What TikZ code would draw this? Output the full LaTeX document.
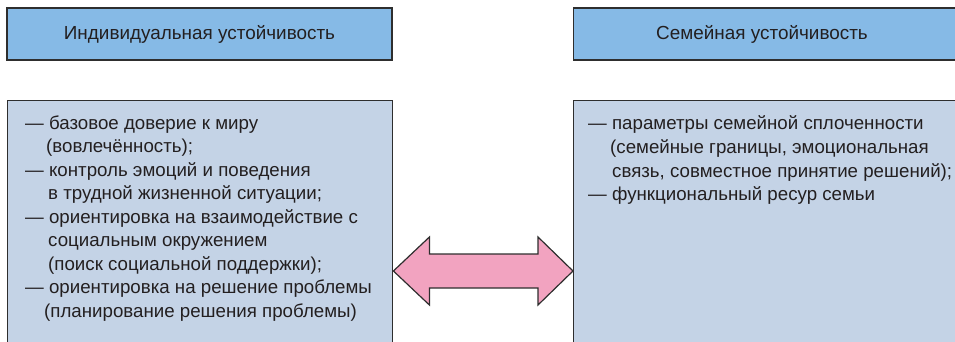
\documentclass[tikz,border=0pt]{standalone}
\usepackage{fontspec}
\setmainfont{Liberation Sans}
\usetikzlibrary{calc}
\definecolor{headblue}{HTML}{86BAE6}
\definecolor{lowblue}{HTML}{C4D3E6}
\definecolor{arrowpink}{HTML}{F2A3C0}
\definecolor{edgegrey}{HTML}{2E2E2E}
\definecolor{txt}{HTML}{231F20}
\begin{document}
\begin{tikzpicture}[x=1pt,y=-1pt,
  headbox/.style={draw=edgegrey, line width=1.4pt, fill=headblue, minimum height=52pt, inner sep=0pt, text=txt, font=\fontsize{18.9}{22}\selectfont},
  lowbox/.style={draw=edgegrey, line width=1.4pt, fill=lowblue, minimum height=260pt, inner sep=0pt, anchor=north west},
  itemline/.style={anchor=base west, inner sep=0pt, text=txt, font=\fontsize{18.7}{22}\selectfont},
  dblarrow/.style={draw=edgegrey, line width=1.2pt, fill=arrowpink, line join=miter}
]
\useasboundingbox (0,0) rectangle (955,342);
\clip (0,0) rectangle (955,342);
% header boxes
\node[headbox, minimum width=385pt] (LH) at (199.5,34) {Индивидуальная устойчивость};
\node[headbox, minimum width=385pt, anchor=west] (RH) at (573,34) {};
\node[anchor=base, inner sep=0pt, text=txt, font=\fontsize{18.9}{22}\selectfont] (RHt) at (762,40) {Семейная устойчивость};
% lower boxes
\node[lowbox, minimum width=385pt] (L) at (7,100) {};
\node[lowbox, minimum width=385pt] (R) at (573,100) {};
% left list
\node[itemline] (l1) at (25,129) {— базовое доверие к миру};
\node[itemline] (l2) at (46,152.5) {(вовлечённость);};
\node[itemline] (l3) at (25,176) {— контроль эмоций и поведения};
\node[itemline] (l4) at (48,199.5) {в трудной жизненной ситуации;};
\node[itemline] (l5) at (25,223) {— ориентировка на взаимодействие с};
\node[itemline] (l6) at (48,246.5) {социальным окружением};
\node[itemline] (l7) at (48,270) {(поиск социальной поддержки);};
\node[itemline] (l8) at (25,293.5) {— ориентировка на решение проблемы};
\node[itemline] (l9) at (44,317) {(планирование решения проблемы)};
% right list
\node[itemline] (r1) at (588,130) {— параметры семейной сплоченности};
\node[itemline] (r2) at (610,153.5) {(семейные границы, эмоциональная};
\node[itemline] (r3) at (612,177) {связь, совместное принятие решений);};
\node[itemline] (r4) at (588,200.5) {— функциональный ресур семьи};
% double arrow between the lower boxes
\coordinate (tipL) at (L.east |- 0,271);
\coordinate (tipR) at (R.west |- 0,271);
\draw[dblarrow] (tipL) -- ++(36,-34) -- ++(0,17) -- ($(tipR)+(-35,-17)$) -- ++(0,-17) -- (tipR)
  -- ++(-35,34) -- ++(0,-17) -- ($(tipL)+(36,17)$) -- ++(0,17) -- cycle;
\end{tikzpicture}
\end{document}
